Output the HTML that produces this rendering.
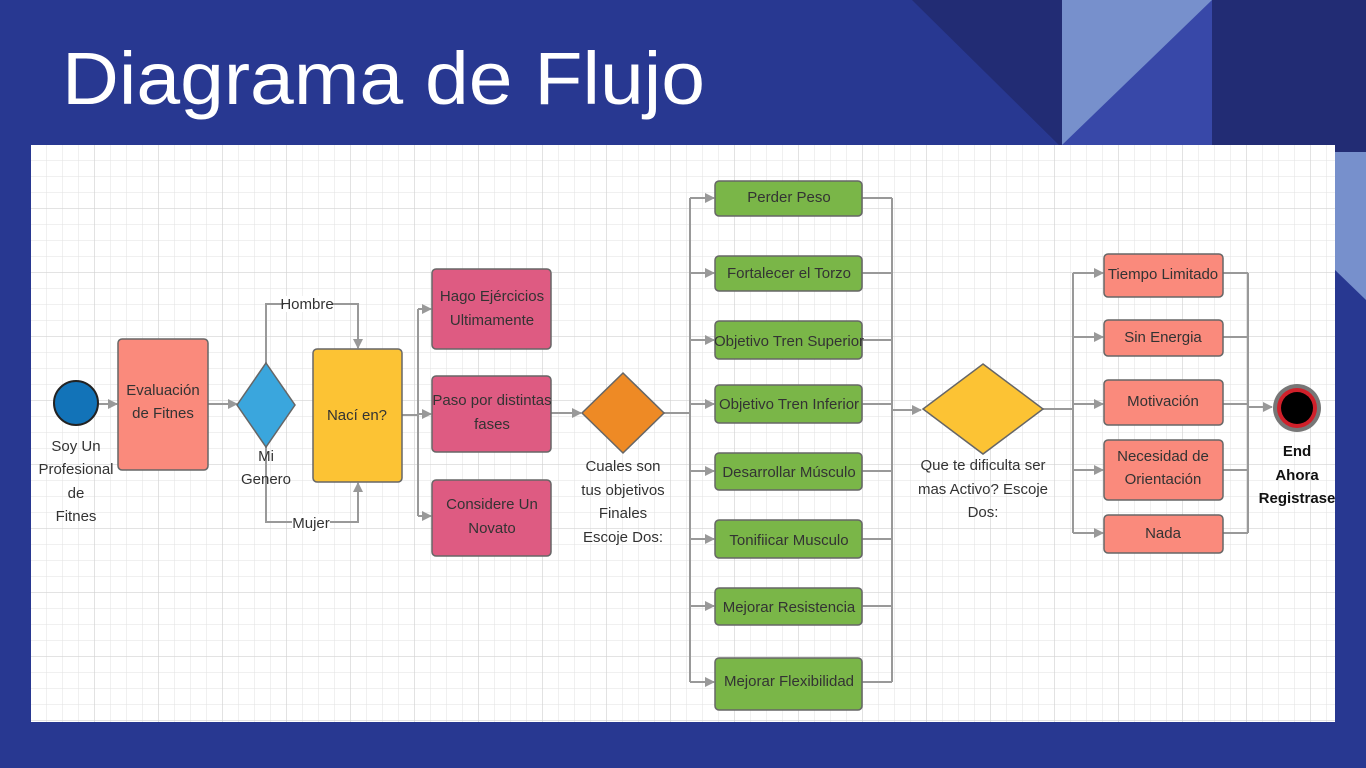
<!DOCTYPE html>
<html><head><meta charset="utf-8"><style>
html,body{margin:0;padding:0;width:1366px;height:768px;overflow:hidden;background:#283891;}
svg{display:block}
text{font-family:"Liberation Sans",sans-serif;}
</style></head><body>
<svg width="1366" height="768" viewBox="0 0 1366 768" xmlns="http://www.w3.org/2000/svg">
<defs>
<pattern id="g" x="31" y="145" width="16" height="16" patternUnits="userSpaceOnUse">
<path d="M16 0V16M0 16H16" stroke="#e2e2e2" stroke-width="1" fill="none"/>
</pattern>
<pattern id="G" x="31" y="145" width="64" height="64" patternUnits="userSpaceOnUse">
<path d="M64 0V64M0 64H64" stroke="#d2d2d2" stroke-width="1.3" fill="none"/>
</pattern>
<marker id="a" markerWidth="10" markerHeight="10" refX="9" refY="5" orient="auto" markerUnits="userSpaceOnUse">
<path d="M0 0L10 5L0 10Z" fill="#999"/>
</marker>
</defs>
<rect width="1366" height="768" fill="#283891"/>
<polygon points="912,0 1062,0 1062,148" fill="#222c74"/>
<rect x="1062" y="0" width="150" height="145" fill="#3848a8"/>
<polygon points="1062,0 1212,0 1062,145" fill="#7790cc"/>
<rect x="1212" y="0" width="154" height="152" fill="#222c74"/>
<polygon points="1335,152 1366,152 1366,300 1335,270" fill="#7790cc"/>
<text x="62" y="104" font-size="74" fill="#fff" textLength="643" lengthAdjust="spacingAndGlyphs">Diagrama de Flujo</text>
<rect x="31" y="145" width="1304" height="577" fill="#fff"/>
<rect x="31" y="145" width="1304" height="577" fill="url(#g)"/>
<rect x="31" y="145" width="1304" height="577" fill="url(#G)"/>
<g stroke="#999" stroke-width="2" fill="none">
<path d="M99 404H117" marker-end="url(#a)"/>
<path d="M208 404H237" marker-end="url(#a)"/>
<path d="M266 363V304H358V348" marker-end="url(#a)"/>
<path d="M266 447V522H358V483" marker-end="url(#a)"/>
<path d="M402 415H418M418 309V516"/>
<path d="M418 309H431" marker-end="url(#a)"/>
<path d="M418 414H431" marker-end="url(#a)"/>
<path d="M418 516H431" marker-end="url(#a)"/>
<path d="M551 413H581" marker-end="url(#a)"/>
<path d="M664 413H690M690 198V682"/>
<path d="M690 198H714" marker-end="url(#a)"/>
<path d="M690 273H714" marker-end="url(#a)"/>
<path d="M690 340H714" marker-end="url(#a)"/>
<path d="M690 404H714" marker-end="url(#a)"/>
<path d="M690 471H714" marker-end="url(#a)"/>
<path d="M690 539H714" marker-end="url(#a)"/>
<path d="M690 606H714" marker-end="url(#a)"/>
<path d="M690 682H714" marker-end="url(#a)"/>
<path d="M862 198H892M862 273H892M862 340H892M862 404H892M862 471H892M862 539H892M862 606H892M862 682H892M892 198V682"/>
<path d="M892 410H921" marker-end="url(#a)"/>
<path d="M1043 409H1073M1073 273V533"/>
<path d="M1073 273H1103" marker-end="url(#a)"/>
<path d="M1073 337H1103" marker-end="url(#a)"/>
<path d="M1073 404H1103" marker-end="url(#a)"/>
<path d="M1073 470H1103" marker-end="url(#a)"/>
<path d="M1073 533H1103" marker-end="url(#a)"/>
<path d="M1223 273H1248M1223 337H1248M1223 404H1248M1223 470H1248M1223 533H1248M1248 273V533"/>
<path d="M1248 407H1272" marker-end="url(#a)"/>
</g>
<g stroke="#666" stroke-width="1.5">
<circle cx="76" cy="403" r="22" fill="#1273b8" stroke="#222" stroke-width="2"/>
<rect x="118" y="339" width="90" height="131" rx="4" fill="#fa8a7c"/>
<polygon points="266,363 295,405 266,447 237,405" fill="#3aa6dd"/>
<rect x="313" y="349" width="89" height="133" rx="4" fill="#fcc334"/>
<rect x="432" y="269" width="119" height="80" rx="4" fill="#de5b82"/>
<rect x="432" y="376" width="119" height="76" rx="4" fill="#de5b82"/>
<rect x="432" y="480" width="119" height="76" rx="4" fill="#de5b82"/>
<polygon points="623,373 664,413 623,453 582,413" fill="#ee8a25"/>
<rect x="715" y="181" width="147" height="35" rx="4" fill="#7ab648"/>
<rect x="715" y="256" width="147" height="35" rx="4" fill="#7ab648"/>
<rect x="715" y="321" width="147" height="38" rx="4" fill="#7ab648"/>
<rect x="715" y="385" width="147" height="38" rx="4" fill="#7ab648"/>
<rect x="715" y="453" width="147" height="37" rx="4" fill="#7ab648"/>
<rect x="715" y="520" width="147" height="38" rx="4" fill="#7ab648"/>
<rect x="715" y="588" width="147" height="37" rx="4" fill="#7ab648"/>
<rect x="715" y="658" width="147" height="52" rx="4" fill="#7ab648"/>
<polygon points="983,364 1043,409 983,454 923,409" fill="#fcc334"/>
<rect x="1104" y="254" width="119" height="43" rx="4" fill="#fa8a7c"/>
<rect x="1104" y="320" width="119" height="36" rx="4" fill="#fa8a7c"/>
<rect x="1104" y="380" width="119" height="45" rx="4" fill="#fa8a7c"/>
<rect x="1104" y="440" width="119" height="60" rx="4" fill="#fa8a7c"/>
<rect x="1104" y="515" width="119" height="38" rx="4" fill="#fa8a7c"/>
</g>
<circle cx="1297" cy="408" r="24" fill="#777"/>
<circle cx="1297" cy="408" r="20" fill="#d0202a"/>
<circle cx="1297" cy="408" r="16" fill="#000"/>
<g font-size="15" fill="#333" text-anchor="middle">
<text x="76" y="451">Soy Un</text><text x="76" y="474">Profesional</text><text x="76" y="498">de</text><text x="76" y="521">Fitnes</text>
<text x="163" y="395">Evaluación</text><text x="163" y="418">de Fitnes</text>
<text x="266" y="461">Mi</text><text x="266" y="484">Genero</text>
<rect x="284" y="296" width="48" height="16" fill="#fff"/><text x="307" y="309">Hombre</text>
<rect x="292" y="514" width="38" height="16" fill="#fff"/><text x="311" y="528">Mujer</text>
<text x="357" y="420">Nací en?</text>
<text x="492" y="301">Hago Ejércicios</text><text x="492" y="325">Ultimamente</text>
<text x="492" y="405">Paso por distintas</text><text x="492" y="429">fases</text>
<text x="492" y="509">Considere Un</text><text x="492" y="533">Novato</text>
<text x="623" y="471">Cuales son</text><text x="623" y="495">tus objetivos</text><text x="623" y="518">Finales</text><text x="623" y="542">Escoje Dos:</text>
<text x="789" y="202">Perder Peso</text>
<text x="789" y="278">Fortalecer el Torzo</text>
<text x="789" y="346">Objetivo Tren Superior</text>
<text x="789" y="409">Objetivo Tren Inferior</text>
<text x="789" y="477">Desarrollar Músculo</text>
<text x="789" y="545">Tonifiicar Musculo</text>
<text x="789" y="612">Mejorar Resistencia</text>
<text x="789" y="686">Mejorar Flexibilidad</text>
<text x="983" y="470">Que te dificulta ser</text><text x="983" y="494">mas Activo? Escoje</text><text x="983" y="517">Dos:</text>
<text x="1163" y="279">Tiempo Limitado</text>
<text x="1163" y="342">Sin Energia</text>
<text x="1163" y="406">Motivación</text>
<text x="1163" y="461">Necesidad de</text><text x="1163" y="484">Orientación</text>
<text x="1163" y="538">Nada</text>
<g font-weight="bold" fill="#111"><text x="1297" y="456">End</text><text x="1297" y="480">Ahora</text><text x="1297" y="503">Registrase</text></g>
</g>
</svg>
</body></html>
